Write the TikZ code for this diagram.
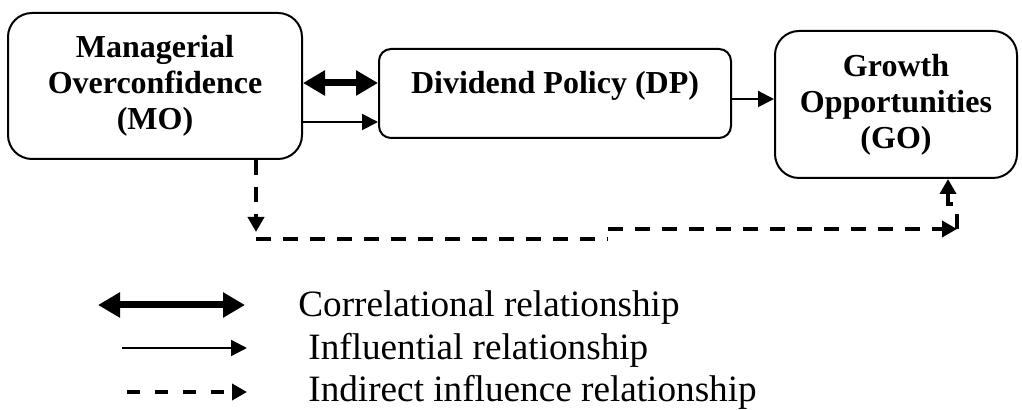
\documentclass[tikz,border=0pt]{standalone}
\usepackage{fontspec}
\setmainfont{Liberation Serif}
\usetikzlibrary{arrows.meta}

\tikzset{
  var/.style={draw,line width=1pt,rounded corners=12pt,align=center,inner sep=0pt,
    font=\bfseries\fontsize{16}{18}\selectfont},
  corr/.style={line width=3.5pt,
    {Triangle[length=11pt,width=12pt]}-{Triangle[length=11pt,width=12pt]}},
  infl/.style={line width=1pt,-{Triangle[length=8pt,width=8pt]}},
  indir/.style={line width=2pt,dash pattern=on 7.5pt off 6pt,
    -{Triangle[length=7.5pt,width=8pt]}},
  legtext/.style={anchor=base west,inner sep=0pt,font=\fontsize{18.6}{20}\selectfont}
}

\begin{document}
\begin{tikzpicture}[x=0.5pt,y=-0.5pt]
  \useasboundingbox (0,0) rectangle (1022,410);
  % the three variables
  \node[var,minimum width=147pt,minimum height=73pt] (MO) at (155,86)
      {Managerial\\Overconfidence\\(MO)};
  \node[var,minimum width=176pt,minimum height=44.5pt,rounded corners=6pt,
        text height=11pt,text depth=11pt] (DP) at (555,93.5) {Dividend Policy (DP)};
  \node[var,minimum width=121pt,minimum height=73.5pt] (GO) at (896,104.5)
      {Growth\\Opportunities\\(GO)};

  % direct links
  \coordinate (a1) at ([yshift=1.5pt]MO.east);
  \coordinate (a2) at ([yshift=-18pt]MO.east);
  \coordinate (a3) at ([yshift=-2.75pt]DP.east);
  \draw[corr] (a1) -- (a1 -| DP.west);
  \draw[infl] (a2) -- (a2 -| DP.west);
  \draw[infl] (a3) -- (a3 -| GO.west);

  % indirect link, MO -> GO
  \coordinate (d1) at (256,232);
  \coordinate (d2) at (256,239);
  \coordinate (d3) at (608,239);
  \coordinate (d4) at (608,229);
  \coordinate (d5) at (957,229);
  \coordinate (d6) at (957,214);
  \coordinate (d7) at (953,204);
  \coordinate (d8) at (948,204);
  \draw[indir] (MO.south -| d1) -- (d1);
  \draw[indir,-] (d2) -- (d3);
  \draw[indir] (d4) -- (d5);
  \draw[indir,-] (d5) -- (d6);
  \draw[indir] (d7) -- (d8) -- (GO.south -| d8);

  % legend
  \node[legtext] (k1) at (298,317) {Correlational relationship};
  \node[legtext] (k2) at (308,360) {Influential relationship};
  \node[legtext] (k3) at (308,402) {Indirect influence relationship};
  \draw[corr] (98,305) -- (245,305);
  \draw[infl] (122,348) -- (247,348);
  \draw[indir,dash pattern=on 6.5pt off 7.5pt] (127,392) -- (247,392);
\end{tikzpicture}
\end{document}
